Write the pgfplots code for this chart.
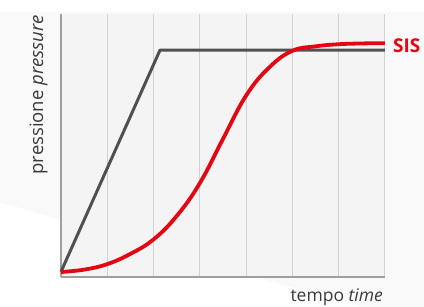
\documentclass[border=0pt]{standalone}
\usepackage{pgfplots}
\pgfplotsset{compat=1.18}
\usepackage{fontspec}
\setmainfont{Open Sans}
\definecolor{sisred}{HTML}{E30613}
\definecolor{darkline}{HTML}{505050}
\definecolor{txt}{HTML}{3A3A3A}
\begin{document}
\begin{tikzpicture}
\useasboundingbox (0,0) rectangle (424pt,307pt);
\fill[white] (0,0) rectangle (424pt,307pt);
\fill[gray!5] (0,105pt) -- (0,295pt) -- (424pt,295pt) -- (424pt,0) -- (360pt,0) -- cycle;
\begin{axis}[
  at={(61pt,30pt)}, anchor=south west,
  scale only axis, width=324pt, height=263pt,
  xmin=0, xmax=7, ymin=0, ymax=1,
  axis x line*=bottom, axis y line*=left,
  axis line style={draw=gray!75, line width=2.2pt, -},
  xtick={1,2,3,4,5,6,7}, ytick=\empty,
  xticklabels={}, major tick length=0pt,
  xmajorgrids, grid style={draw=gray!35, line width=1pt},
  axis background/.style={fill=gray!9},
  clip=false,
]
\addplot[draw=darkline, line width=3pt, line join=round] coordinates {
  (0,0.02) (2.14,0.863) (7,0.863)
};
\addplot[draw=sisred, line width=3.8pt, smooth, tension=0.7] coordinates {
  (0,0.019) (0.5,0.028) (1,0.049) (1.5,0.088) (2,0.143) (2.5,0.232)
  (3,0.357) (3.5,0.525) (4,0.690) (4.5,0.797) (5,0.860) (5.5,0.877)
  (6,0.885) (6.5,0.888) (7,0.889)
};
\end{axis}
\node[rotate=90, anchor=base east, text=txt, font=\fontsize{18.5}{20}\selectfont, inner sep=0pt]
  at (43pt,292pt) {pressione \textit{pressure}};
\node[anchor=base east, text=txt, font=\fontsize{17.5}{20}\selectfont, inner sep=0pt]
  at (383pt,5.5pt) {tempo \textit{time}};
\node[anchor=base west, text=sisred, font=\fontsize{19}{22}\selectfont\bfseries, inner sep=0pt]
  at (393pt,254pt) {SIS};
\end{tikzpicture}
\end{document}
